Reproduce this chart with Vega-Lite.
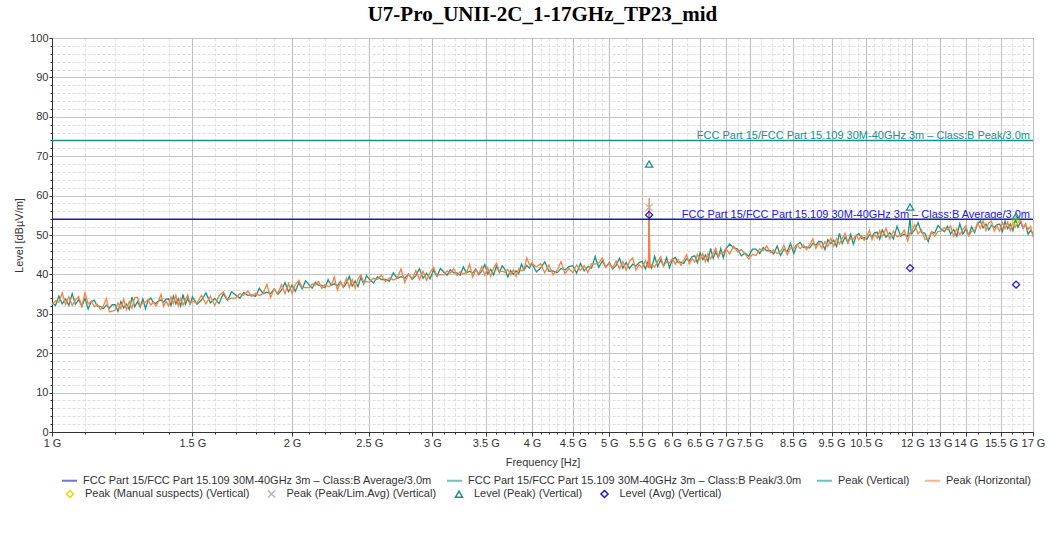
{
"$schema":"https://vega.github.io/schema/vega-lite/v6.json",
"width":981,"height":394,
"autosize":{"type":"none"},
"padding":{"left":52,"top":38,"right":26,"bottom":105},
"background":"#ffffff",
"title":{"text":"U7-Pro_UNII-2C_1-17GHz_TP23_mid","font":"Liberation Serif","fontSize":21,"fontWeight":"bold","color":"#000000","offset":7,"anchor":"middle"},
"config":{
"font":"Liberation Sans",
"view":{"stroke":"#444444","strokeWidth":1},
"axis":{"labelFont":"Liberation Sans","labelFontSize":11,"labelColor":"#333333","titleFont":"Liberation Sans","titleFontSize":11,"titleFontWeight":"normal","titleColor":"#333333","domainColor":"#333333","tickColor":"#333333"},
"legend":{"labelFont":"Liberation Sans","labelFontSize":11,"labelColor":"#333333","labelLimit":600,"padding":0}
},
"datasets":{
"trace":[
{"f":1.00,"v":32.9,"h":32.3},{"f":1.01,"v":32.1,"h":33.3},{"f":1.02,"v":34.5,"h":32.9},{"f":1.03,"v":32.5,"h":35.3},{"f":1.04,"v":33.8,"h":32.3},{"f":1.05,"v":32.1,"h":34.3},{"f":1.06,"v":35.1,"h":32.1},{"f":1.07,"v":32.4,"h":33.5},{"f":1.08,"v":33.6,"h":34.4},{"f":1.09,"v":31.9,"h":31.9},
{"f":1.10,"v":33.9,"h":35.3},{"f":1.11,"v":31.2,"h":32.5},{"f":1.12,"v":33.1,"h":33.2},{"f":1.13,"v":33.4,"h":31.8},{"f":1.14,"v":31.9,"h":32.4},{"f":1.15,"v":31.9,"h":31.1},{"f":1.16,"v":31.3,"h":32.0},{"f":1.17,"v":32.2,"h":33.9},{"f":1.18,"v":31.4,"h":30.5},{"f":1.19,"v":32.3,"h":30.7},
{"f":1.20,"v":32.3,"h":30.9},{"f":1.21,"v":30.6,"h":32.8},{"f":1.22,"v":33.1,"h":31.3},{"f":1.23,"v":31.5,"h":33.7},{"f":1.24,"v":32.5,"h":31.0},{"f":1.25,"v":31.1,"h":33.1},{"f":1.26,"v":34.2,"h":31.4},{"f":1.27,"v":31.8,"h":34.1},{"f":1.28,"v":33.1,"h":34.2},{"f":1.29,"v":31.7,"h":32.0},
{"f":1.30,"v":33.8,"h":32.8},{"f":1.31,"v":31.3,"h":33.0},{"f":1.32,"v":33.4,"h":33.6},{"f":1.33,"v":34.0,"h":32.2},{"f":1.34,"v":32.9,"h":33.0},{"f":1.35,"v":32.6,"h":32.0},{"f":1.36,"v":33.3,"h":33.1},{"f":1.37,"v":33.5,"h":34.9},{"f":1.38,"v":32.9,"h":31.9},{"f":1.39,"v":33.7,"h":33.2},
{"f":1.40,"v":33.8,"h":32.0},{"f":1.41,"v":32.1,"h":34.3},{"f":1.42,"v":34.5,"h":32.6},{"f":1.43,"v":32.5,"h":34.7},{"f":1.44,"v":33.8,"h":32.0},{"f":1.45,"v":32.0,"h":34.0},{"f":1.46,"v":34.9,"h":32.2},{"f":1.47,"v":32.4,"h":33.6},{"f":1.48,"v":33.9,"h":34.8},{"f":1.49,"v":32.4,"h":32.5},
{"f":1.50,"v":34.3,"h":33.2},{"f":1.52,"v":32.4,"h":32.7},{"f":1.54,"v":33.5,"h":34.7},{"f":1.56,"v":35.3,"h":32.5},{"f":1.58,"v":32.8,"h":34.5},{"f":1.60,"v":33.9,"h":32.1},{"f":1.62,"v":32.6,"h":34.6},{"f":1.64,"v":35.1,"h":35.6},{"f":1.66,"v":33.4,"h":33.6},{"f":1.68,"v":35.6,"h":34.0},
{"f":1.70,"v":34.7,"h":34.0},{"f":1.72,"v":34.0,"h":35.1},{"f":1.74,"v":35.4,"h":34.7},{"f":1.76,"v":34.7,"h":35.8},{"f":1.78,"v":34.8,"h":34.4},{"f":1.80,"v":34.4,"h":35.2},{"f":1.82,"v":36.5,"h":34.6},{"f":1.84,"v":35.1,"h":35.2},{"f":1.86,"v":35.5,"h":37.5},{"f":1.88,"v":35.1,"h":34.1},
{"f":1.90,"v":36.3,"h":36.3},{"f":1.92,"v":34.9,"h":35.1},{"f":1.94,"v":36.0,"h":37.4},{"f":1.96,"v":37.9,"h":35.1},{"f":1.98,"v":35.6,"h":37.7},{"f":2.00,"v":37.3,"h":35.2},{"f":2.02,"v":35.7,"h":37.4},{"f":2.04,"v":37.9,"h":38.5},{"f":2.06,"v":36.3,"h":36.6},{"f":2.08,"v":38.4,"h":36.7},
{"f":2.10,"v":37.4,"h":36.6},{"f":2.12,"v":36.5,"h":37.6},{"f":2.14,"v":38.0,"h":37.2},{"f":2.16,"v":37.2,"h":38.2},{"f":2.18,"v":37.2,"h":36.4},{"f":2.20,"v":36.6,"h":37.4},{"f":2.22,"v":38.7,"h":36.9},{"f":2.24,"v":37.2,"h":37.2},{"f":2.26,"v":37.6,"h":39.4},{"f":2.28,"v":37.1,"h":36.0},
{"f":2.30,"v":38.2,"h":38.0},{"f":2.32,"v":36.7,"h":36.9},{"f":2.34,"v":37.8,"h":39.0},{"f":2.36,"v":39.5,"h":36.7},{"f":2.38,"v":37.0,"h":38.7},{"f":2.40,"v":38.3,"h":36.5},{"f":2.42,"v":36.9,"h":38.8},{"f":2.44,"v":39.2,"h":39.9},{"f":2.46,"v":37.6,"h":37.9},{"f":2.48,"v":39.7,"h":38.2},
{"f":2.50,"v":38.8,"h":38.0},{"f":2.53,"v":37.8,"h":39.0},{"f":2.56,"v":39.4,"h":38.7},{"f":2.59,"v":38.7,"h":39.8},{"f":2.62,"v":38.7,"h":38.2},{"f":2.65,"v":38.3,"h":39.1},{"f":2.68,"v":40.4,"h":38.6},{"f":2.71,"v":39.0,"h":39.0},{"f":2.74,"v":39.4,"h":41.4},{"f":2.77,"v":39.0,"h":38.0},
{"f":2.80,"v":40.1,"h":40.1},{"f":2.83,"v":38.7,"h":38.9},{"f":2.86,"v":39.7,"h":41.0},{"f":2.89,"v":41.4,"h":38.7},{"f":2.92,"v":39.0,"h":40.8},{"f":2.95,"v":40.3,"h":38.5},{"f":2.98,"v":38.9,"h":40.5},{"f":3.01,"v":41.1,"h":41.8},{"f":3.04,"v":39.5,"h":39.6},{"f":3.07,"v":41.5,"h":40.0},
{"f":3.10,"v":40.6,"h":39.9},{"f":3.13,"v":39.8,"h":40.9},{"f":3.16,"v":41.2,"h":40.3},{"f":3.19,"v":40.4,"h":41.5},{"f":3.22,"v":40.4,"h":39.7},{"f":3.25,"v":39.8,"h":40.7},{"f":3.28,"v":41.9,"h":40.1},{"f":3.31,"v":40.4,"h":40.5},{"f":3.34,"v":40.8,"h":42.6},{"f":3.37,"v":40.3,"h":39.3},
{"f":3.40,"v":41.4,"h":41.2},{"f":3.43,"v":39.9,"h":40.1},{"f":3.46,"v":40.9,"h":42.0},{"f":3.49,"v":42.5,"h":39.8},{"f":3.52,"v":40.1,"h":41.7},{"f":3.55,"v":41.3,"h":39.5},{"f":3.58,"v":39.9,"h":41.6},{"f":3.61,"v":42.1,"h":42.8},{"f":3.64,"v":40.5,"h":40.6},{"f":3.67,"v":42.2,"h":40.8},
{"f":3.70,"v":41.2,"h":40.5},{"f":3.73,"v":39.4,"h":41.3},{"f":3.76,"v":41.0,"h":39.9},{"f":3.79,"v":40.0,"h":41.2},{"f":3.82,"v":40.9,"h":39.5},{"f":3.85,"v":40.2,"h":41.4},{"f":3.88,"v":42.6,"h":40.9},{"f":3.91,"v":41.1,"h":41.3},{"f":3.94,"v":42.3,"h":44.2},{"f":3.97,"v":41.6,"h":42.5},
{"f":4.00,"v":42.9,"h":42.8},{"f":4.05,"v":40.6,"h":41.9},{"f":4.10,"v":41.6,"h":42.7},{"f":4.15,"v":43.2,"h":40.4},{"f":4.20,"v":40.8,"h":42.4},{"f":4.25,"v":40.9,"h":39.9},{"f":4.30,"v":40.4,"h":41.0},{"f":4.35,"v":41.5,"h":43.2},{"f":4.40,"v":41.1,"h":40.2},{"f":4.45,"v":42.0,"h":41.5},
{"f":4.50,"v":42.2,"h":40.5},{"f":4.55,"v":40.3,"h":42.4},{"f":4.60,"v":42.8,"h":41.0},{"f":4.65,"v":40.9,"h":42.2},{"f":4.70,"v":42.0,"h":40.5},{"f":4.75,"v":41.6,"h":42.7},{"f":4.80,"v":44.5,"h":42.6},{"f":4.85,"v":41.8,"h":42.9},{"f":4.90,"v":43.4,"h":44.2},{"f":4.95,"v":41.8,"h":41.8},
{"f":5.00,"v":43.0,"h":42.8},{"f":5.05,"v":41.4,"h":41.6},{"f":5.10,"v":42.3,"h":43.4},{"f":5.15,"v":44.1,"h":41.4},{"f":5.20,"v":41.6,"h":43.3},{"f":5.25,"v":43.0,"h":41.1},{"f":5.30,"v":41.5,"h":43.3},{"f":5.35,"v":42.6,"h":44.2},{"f":5.40,"v":42.1,"h":41.1},{"f":5.45,"v":43.0,"h":42.5},
{"f":5.50,"v":43.3,"h":41.6},{"f":5.55,"v":41.4,"h":43.5},{"f":5.60,"v":43.6,"h":41.6},{"f":5.61,"v":56.0,"h":59.4},{"f":5.62,"v":42.3,"h":41.9},{"f":5.65,"v":41.6,"h":42.5},{"f":5.70,"v":44.6,"h":41.9},{"f":5.75,"v":42.0,"h":43.3},{"f":5.80,"v":43.7,"h":44.5},{"f":5.85,"v":42.1,"h":42.1},
{"f":5.90,"v":44.3,"h":43.2},{"f":5.95,"v":41.7,"h":42.9},{"f":6.00,"v":43.8,"h":44.0},{"f":6.05,"v":44.3,"h":42.6},{"f":6.10,"v":43.0,"h":43.7},{"f":6.15,"v":43.1,"h":42.3},{"f":6.20,"v":42.8,"h":43.6},{"f":6.25,"v":44.0,"h":45.0},{"f":6.30,"v":43.4,"h":42.7},{"f":6.35,"v":44.5,"h":44.0},
{"f":6.40,"v":44.7,"h":43.1},{"f":6.45,"v":42.9,"h":45.1},{"f":6.50,"v":45.5,"h":43.7},{"f":6.55,"v":43.7,"h":45.3},{"f":6.60,"v":44.9,"h":43.2},{"f":6.65,"v":43.3,"h":45.3},{"f":6.70,"v":46.6,"h":43.9},{"f":6.75,"v":44.1,"h":45.3},{"f":6.80,"v":45.7,"h":46.6},{"f":6.85,"v":44.3,"h":44.4},
{"f":6.90,"v":46.6,"h":45.5},{"f":6.95,"v":44.2,"h":45.5},{"f":7.00,"v":46.4,"h":46.6},{"f":7.08,"v":47.7,"h":45.2},{"f":7.16,"v":46.7,"h":47.2},{"f":7.24,"v":46.5,"h":45.7},{"f":7.32,"v":44.7,"h":46.3},{"f":7.40,"v":45.4,"h":45.2},{"f":7.48,"v":44.6,"h":43.9},{"f":7.56,"v":46.4,"h":45.1},
{"f":7.64,"v":46.4,"h":44.8},{"f":7.72,"v":45.3,"h":46.5},{"f":7.80,"v":46.8,"h":46.0},{"f":7.88,"v":46.0,"h":47.2},{"f":7.96,"v":46.1,"h":45.5},{"f":8.04,"v":45.2,"h":46.2},{"f":8.12,"v":47.2,"h":45.3},{"f":8.20,"v":44.8,"h":45.8},{"f":8.28,"v":46.4,"h":47.4},{"f":8.36,"v":45.8,"h":45.0},
{"f":8.44,"v":47.8,"h":46.7},{"f":8.52,"v":45.3,"h":46.6},{"f":8.60,"v":47.5,"h":47.6},{"f":8.68,"v":48.1,"h":46.5},{"f":8.76,"v":46.8,"h":47.5},{"f":8.84,"v":47.0,"h":46.3},{"f":8.92,"v":46.7,"h":47.5},{"f":9.00,"v":47.9,"h":49.0},{"f":9.08,"v":47.4,"h":46.6},{"f":9.16,"v":48.4,"h":48.0},
{"f":9.24,"v":48.2,"h":46.6},{"f":9.32,"v":46.3,"h":48.3},{"f":9.40,"v":48.8,"h":47.1},{"f":9.48,"v":47.8,"h":49.2},{"f":9.56,"v":48.7,"h":47.1},{"f":9.64,"v":47.1,"h":49.1},{"f":9.72,"v":50.4,"h":47.7},{"f":9.80,"v":47.9,"h":49.1},{"f":9.88,"v":49.5,"h":50.4},{"f":9.96,"v":48.0,"h":48.1},
{"f":10.04,"v":50.2,"h":49.1},{"f":10.12,"v":47.7,"h":49.0},{"f":10.20,"v":49.8,"h":50.0},{"f":10.28,"v":50.4,"h":48.8},{"f":10.36,"v":49.1,"h":49.8},{"f":10.44,"v":49.3,"h":48.6},{"f":10.52,"v":48.9,"h":49.8},{"f":10.60,"v":50.1,"h":51.2},{"f":10.68,"v":49.6,"h":48.8},{"f":10.76,"v":50.6,"h":50.2},
{"f":10.84,"v":50.7,"h":49.2},{"f":10.92,"v":48.9,"h":51.1},{"f":11.00,"v":51.3,"h":49.6},{"f":11.12,"v":49.4,"h":51.7},{"f":11.24,"v":50.6,"h":49.0},{"f":11.36,"v":49.0,"h":51.0},{"f":11.48,"v":52.2,"h":49.5},{"f":11.60,"v":49.7,"h":49.9},{"f":11.72,"v":50.2,"h":51.2},{"f":11.84,"v":49.6,"h":48.5},
{"f":11.92,"v":54.2,"h":50.6},{"f":11.96,"v":50.3,"h":50.6},{"f":12.08,"v":51.3,"h":52.6},{"f":12.20,"v":53.1,"h":50.3},{"f":12.32,"v":50.6,"h":51.3},{"f":12.44,"v":50.5,"h":48.9},{"f":12.56,"v":48.3,"h":49.0},{"f":12.68,"v":50.8,"h":50.8},{"f":12.80,"v":50.5,"h":49.7},{"f":12.92,"v":52.4,"h":50.9},
{"f":13.04,"v":51.5,"h":51.0},{"f":13.16,"v":50.8,"h":51.9},{"f":13.28,"v":52.2,"h":51.3},{"f":13.40,"v":50.3,"h":52.3},{"f":13.52,"v":51.4,"h":49.6},{"f":13.64,"v":49.7,"h":51.6},{"f":13.76,"v":52.9,"h":50.0},{"f":13.88,"v":50.3,"h":51.4},{"f":14.00,"v":51.5,"h":52.3},{"f":14.12,"v":49.9,"h":49.8},
{"f":14.24,"v":52.1,"h":51.0},{"f":14.36,"v":50.6,"h":51.0},{"f":14.48,"v":52.7,"h":53.0},{"f":14.60,"v":53.6,"h":51.7},{"f":14.72,"v":51.8,"h":53.6},{"f":14.84,"v":52.8,"h":51.1},{"f":14.96,"v":51.3,"h":53.1},{"f":15.08,"v":52.5,"h":53.5},{"f":15.20,"v":51.9,"h":51.0},{"f":15.32,"v":52.6,"h":52.2},
{"f":15.44,"v":52.8,"h":51.0},{"f":15.56,"v":50.9,"h":53.2},{"f":15.68,"v":53.5,"h":51.6},{"f":15.80,"v":51.6,"h":53.3},{"f":15.92,"v":52.8,"h":51.1},{"f":16.04,"v":51.1,"h":53.2},{"f":16.16,"v":54.0,"h":52.0},{"f":16.28,"v":52.0,"h":53.3},{"f":16.40,"v":53.4,"h":53.8},{"f":16.52,"v":51.7,"h":51.8},
{"f":16.64,"v":52.8,"h":52.6},{"f":16.76,"v":50.2,"h":51.4},{"f":16.88,"v":51.1,"h":52.2},{"f":17.00,"v":50.4,"h":49.5}
],
"limits":[
{"series":"FCC Part 15/FCC Part 15.109 30M-40GHz 3m – Class:B Average/3.0m","level":54},
{"series":"FCC Part 15/FCC Part 15.109 30M-40GHz 3m – Class:B Peak/3.0m","level":74}
],
"markers":[
{"f":16.15,"level":53.4,"marker":"Peak (Manual suspects) (Vertical)"},
{"f":5.61,"level":57.0,"marker":"Peak (Peak/Lim.Avg) (Vertical)"},
{"f":5.61,"level":68.0,"marker":"Level (Peak) (Vertical)"},
{"f":11.92,"level":57.1,"marker":"Level (Peak) (Vertical)"},
{"f":16.19,"level":54.8,"marker":"Level (Peak) (Vertical)"},
{"f":5.61,"level":55.1,"marker":"Level (Avg) (Vertical)"},
{"f":11.92,"level":41.6,"marker":"Level (Avg) (Vertical)"},
{"f":16.19,"level":37.4,"marker":"Level (Avg) (Vertical)"}
]
},
"layer":[
{
"data":{"name":"trace"},
"mark":{"type":"line","strokeWidth":1.3},
"encoding":{
"x":{"field":"f","type":"quantitative","scale":{"type":"log","domain":[1,17],"nice":false,"zero":false},
"axis":{"orient":"bottom","values":[1.1,1.2,1.3,1.4,1.6,1.7,1.8,1.9,2.1,2.2,2.3,2.4,2.6,2.7,2.8,2.9,3.1,3.2,3.3,3.4,3.6,3.7,3.8,3.9,4.1,4.2,4.3,4.4,4.6,4.7,4.8,4.9,5.25,5.75,6.25,6.75,7.25,7.75,8,8.25,8.75,9,9.25,9.75,10,10.25,10.75,11,11.25,11.5,11.75,12.5,13.5,14.5,15,16,16.5],"labels":false,"grid":true,"gridColor":"#e0e0e0","gridDash":[3,2],"tickSize":2,"domain":false,"title":null}},
"y":{"field":"v","type":"quantitative","scale":{"domain":[0,100],"nice":false},
"axis":{"orient":"left","values":[2,4,6,8,12,14,16,18,22,24,26,28,32,34,36,38,42,44,46,48,52,54,56,58,62,64,66,68,72,74,76,78,82,84,86,88,92,94,96,98],"labels":false,"grid":true,"gridColor":"#dcdcdc","gridDash":[3,2],"tickSize":2,"domain":false,"title":null}},
"stroke":{"datum":"Peak (Vertical)","type":"nominal",
"scale":{"domain":["FCC Part 15/FCC Part 15.109 30M-40GHz 3m – Class:B Average/3.0m","FCC Part 15/FCC Part 15.109 30M-40GHz 3m – Class:B Peak/3.0m","Peak (Vertical)","Peak (Horizontal)"],"range":["#1818c8","#1a9090","#14968a","#ff7f3f"]},
"legend":{"title":null,"orient":"none","legendX":9,"legendY":434,"direction":"horizontal","symbolType":"stroke","symbolSize":225,"symbolStrokeWidth":2,"symbolOpacity":0.6,"labelOffset":5,"columnPadding":11}}
}
},
{
"data":{"name":"trace"},
"mark":{"type":"line","strokeWidth":1.3},
"encoding":{
"x":{"field":"f","type":"quantitative","axis":{"orient":"bottom","values":[1,1.5,2,2.5,3,3.5,4,4.5,5,5.5,6,6.5,7,7.5,8.5,9.5,10.5,12,13,14,15.5,17],"labelExpr":"datum.value + ' G'","labelOverlap":false,"labelFlush":false,"labelBound":false,"grid":true,"gridColor":"#bdbdbd","tickSize":4,"labelPadding":1,"title":"Frequency [Hz]","titlePadding":8}},
"y":{"field":"h","type":"quantitative","axis":{"orient":"left","values":[0,10,20,30,40,50,60,70,80,90,100],"grid":true,"gridColor":"#c4c4c4","tickSize":3,"labelPadding":1,"title":"Level [dBµV/m]","titlePadding":5}},
"stroke":{"datum":"Peak (Horizontal)","type":"nominal",
"legend":{"title":null,"orient":"none","legendX":9,"legendY":434,"direction":"horizontal","symbolType":"stroke","symbolSize":225,"symbolStrokeWidth":2,"symbolOpacity":0.6,"labelOffset":5,"columnPadding":11}}
}
},
{
"data":{"name":"limits"},
"mark":{"type":"rule","strokeWidth":1.5},
"encoding":{
"y":{"field":"level","type":"quantitative","axis":null},
"stroke":{"field":"series","type":"nominal",
"legend":{"title":null,"orient":"none","legendX":9,"legendY":434,"direction":"horizontal","symbolType":"stroke","symbolSize":225,"symbolStrokeWidth":2,"symbolOpacity":0.6,"labelOffset":5,"columnPadding":11}}
}
},
{
"data":{"name":"limits"},
"mark":{"type":"text","align":"right","baseline":"alphabetic","dx":-3,"dy":-1,"fontSize":11,"font":"Liberation Sans"},
"encoding":{
"x":{"datum":17,"type":"quantitative","axis":null},
"y":{"field":"level","type":"quantitative","axis":null},
"text":{"field":"series"},
"color":{"condition":{"test":"indexof(datum.series, 'Peak/') >= 0","value":"#1a9090"},"value":"#2020e0"}
}
},
{
"data":{"name":"markers"},
"mark":{"type":"point","filled":false,"size":50,"strokeWidth":1.3,"opacity":1},
"encoding":{
"x":{"field":"f","type":"quantitative","axis":null},
"y":{"field":"level","type":"quantitative","axis":null},
"color":{"field":"marker","type":"nominal",
"scale":{"domain":["Peak (Manual suspects) (Vertical)","Peak (Peak/Lim.Avg) (Vertical)","Level (Peak) (Vertical)","Level (Avg) (Vertical)"],"range":["#e8d800","#b4b4b4","#1a9090","#1a1ae0"]},
"legend":{"title":null,"orient":"none","legendX":12.5,"legendY":450,"direction":"horizontal","symbolSize":50,"symbolStrokeWidth":1.5,"labelOffset":9.5,"columnPadding":14.5}},
"shape":{"field":"marker","type":"nominal",
"scale":{"domain":["Peak (Manual suspects) (Vertical)","Peak (Peak/Lim.Avg) (Vertical)","Level (Peak) (Vertical)","Level (Avg) (Vertical)"],"range":["diamond","M-1,-1L1,1M1,-1L-1,1","triangle-up","diamond"]},
"legend":{"title":null,"orient":"none","legendX":12.5,"legendY":450,"direction":"horizontal","symbolSize":50,"symbolStrokeWidth":1.5,"labelOffset":9.5,"columnPadding":14.5}}
}
}
],
"resolve":{"axis":{"x":"independent","y":"independent"}}
}
